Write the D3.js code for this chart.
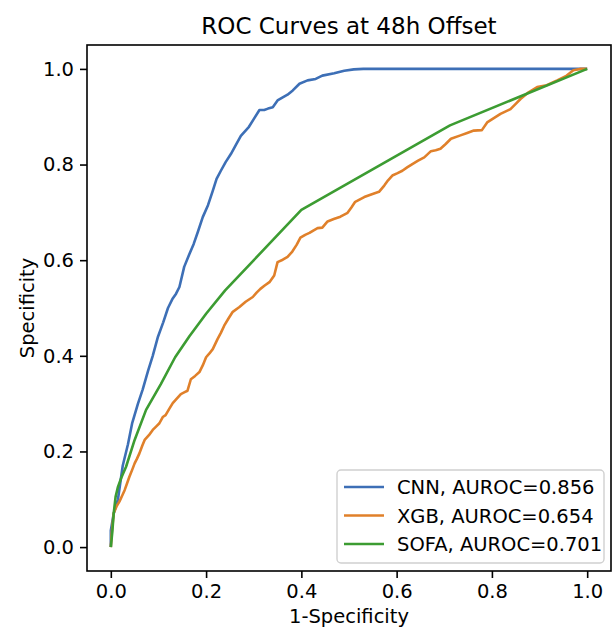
<!DOCTYPE html>
<html>
  <head>
    <title>ROC Curves at 48h Offset</title>
    <script src="https://d3js.org/d3.v7.min.js"></script>
    <style>
      body { margin: 0; background: #fff; }
      text { font-family: "DejaVu Sans", sans-serif; fill: #000; }
      .tick line { stroke: #000; }
      .curve { fill: none; stroke-width: 2.6; stroke-linejoin: round; }
    </style>
  </head>
  <body>
    <svg id="chart" width="613" height="628"></svg>

    <script>
      // curve points
      var cnnFpr = [0, 0, 0.006, 0.015, 0.025, 0.036, 0.045, 0.057, 0.067, 0.078, 0.088, 0.099, 0.11, 0.12, 0.13, 0.137, 0.144, 0.154, 0.165, 0.174, 0.183, 0.193, 0.204, 0.214, 0.222, 0.231, 0.241, 0.252, 0.262, 0.273, 0.29, 0.30, 0.312, 0.322, 0.33, 0.34, 0.35, 0.36, 0.371, 0.382, 0.396, 0.413, 0.43, 0.444, 0.469, 0.49, 0.51, 0.53, 1.0];
      var cnnTpr = [0, 0.035, 0.07, 0.10, 0.17, 0.215, 0.26, 0.30, 0.33, 0.368, 0.40, 0.44, 0.47, 0.50, 0.52, 0.53, 0.544, 0.586, 0.613, 0.634, 0.66, 0.69, 0.715, 0.745, 0.77, 0.787, 0.805, 0.822, 0.84, 0.86, 0.879, 0.895, 0.914, 0.914, 0.917, 0.92, 0.934, 0.94, 0.946, 0.955, 0.969, 0.976, 0.979, 0.986, 0.991, 0.996, 0.999, 1.0, 1.0];

      var xgbFpr = [0, 0.002, 0.006, 0.012, 0.018, 0.024, 0.029, 0.034, 0.039, 0.045, 0.05, 0.055, 0.06, 0.066, 0.071, 0.08, 0.088, 0.095, 0.102, 0.109, 0.115, 0.122, 0.13, 0.138, 0.147, 0.155, 0.161, 0.168, 0.177, 0.186, 0.193, 0.2, 0.207, 0.214, 0.224, 0.231, 0.238, 0.247, 0.256, 0.27, 0.283, 0.298, 0.306, 0.314, 0.323, 0.333, 0.343, 0.35, 0.361, 0.371, 0.381, 0.39, 0.398, 0.408, 0.417, 0.425, 0.434, 0.444, 0.455, 0.468, 0.482, 0.497, 0.505, 0.513, 0.532, 0.548, 0.563, 0.574, 0.582, 0.591, 0.602, 0.612, 0.622, 0.633, 0.645, 0.658, 0.672, 0.682, 0.692, 0.703, 0.714, 0.734, 0.748, 0.762, 0.779, 0.79, 0.804, 0.818, 0.839, 0.85, 0.86, 0.877, 0.895, 0.915, 0.937, 0.957, 0.971, 0.985, 1.0];
      var xgbTpr = [0, 0.03, 0.071, 0.085, 0.095, 0.108, 0.119, 0.133, 0.147, 0.162, 0.175, 0.185, 0.196, 0.212, 0.224, 0.234, 0.245, 0.252, 0.259, 0.272, 0.276, 0.288, 0.301, 0.31, 0.32, 0.324, 0.327, 0.351, 0.358, 0.366, 0.38, 0.397, 0.405, 0.414, 0.435, 0.448, 0.463, 0.478, 0.492, 0.502, 0.513, 0.523, 0.532, 0.54, 0.547, 0.554, 0.568, 0.596, 0.601, 0.607, 0.618, 0.632, 0.647, 0.653, 0.657, 0.662, 0.667, 0.668, 0.681, 0.686, 0.691, 0.699, 0.71, 0.722, 0.732, 0.738, 0.743, 0.756, 0.767, 0.777, 0.782, 0.787, 0.794, 0.801, 0.808, 0.815, 0.828, 0.83, 0.833, 0.843, 0.854, 0.861, 0.866, 0.871, 0.872, 0.888, 0.897, 0.906, 0.916, 0.927, 0.937, 0.951, 0.962, 0.966, 0.976, 0.986, 0.997, 1.0, 1.0];

      var sofaFpr = [0, 0.003, 0.006, 0.01, 0.015, 0.022, 0.032, 0.05, 0.074, 0.105, 0.135, 0.165, 0.2, 0.24, 0.4, 0.712, 1.0];
      var sofaTpr = [0, 0.03, 0.07, 0.105, 0.126, 0.145, 0.168, 0.224, 0.287, 0.341, 0.397, 0.441, 0.488, 0.537, 0.705, 0.882, 1.0];

      var seriesNames = ["CNN, AUROC=0.856", "XGB, AUROC=0.654", "SOFA, AUROC=0.701"];
      var seriesColors = ["#3d6fb6", "#e0802a", "#3c9c32"];
      var tickValues = [0, 0.2, 0.4, 0.6, 0.8, 1.0];

      var series = [
        { name: seriesNames[0], color: seriesColors[0], pts: d3.zip(cnnFpr, cnnTpr) },
        { name: seriesNames[1], color: seriesColors[1], pts: d3.zip(xgbFpr, xgbTpr) },
        { name: seriesNames[2], color: seriesColors[2], pts: d3.zip(sofaFpr, sofaTpr) }
      ];

      var plotL = 87, plotR = 611, plotT = 45, plotB = 571;
      var svg = d3.select("#chart");

      var x = d3.scaleLinear().domain([-0.05, 1.05]).range([plotL, plotR]);
      var y = d3.scaleLinear().domain([-0.05, 1.05]).range([plotB, plotT]);

      var line = d3.line()
        .x(d => x(d[0]))
        .y(d => y(d[1]));

      svg.selectAll("path.curve")
        .data(series)
        .enter()
        .append("path")
          .attr("class", "curve")
          .attr("d", d => line(d.pts))
          .style("stroke", d => d.color);

      var xAxis = svg.append("g")
        .attr("transform", `translate(0,${plotB})`)
        .call(d3.axisBottom(x).tickValues(tickValues).tickFormat(d3.format(".1f")).tickSize(7).tickPadding(6));
      var yAxis = svg.append("g")
        .attr("transform", `translate(${plotL},0)`)
        .call(d3.axisLeft(y).tickValues(tickValues).tickFormat(d3.format(".1f")).tickSize(7).tickPadding(6));
      [xAxis, yAxis].forEach(g => {
        g.select(".domain").remove();
        g.selectAll(".tick line").style("stroke-width", 1.6);
        g.selectAll(".tick text").style("font-size", "19.5px").style("font-family", "DejaVu Sans");
      });

      // frame
      svg.append("rect")
        .attr("x", plotL).attr("y", plotT)
        .attr("width", plotR - plotL).attr("height", plotB - plotT)
        .style("fill", "none").style("stroke", "#000").style("stroke-width", 1.6);

      svg.append("text")
        .attr("x", (plotL + plotR) / 2).attr("y", 34)
        .style("text-anchor", "middle").style("font-size", "23px")
        .text("ROC Curves at 48h Offset");

      svg.append("text")
        .attr("x", (plotL + plotR) / 2).attr("y", 623)
        .style("text-anchor", "middle").style("font-size", "19.5px")
        .text("1-Specificity");

      svg.append("text")
        .attr("transform", `translate(34,${(plotT + plotB) / 2}) rotate(-90)`)
        .style("text-anchor", "middle").style("font-size", "19.5px")
        .text("Specificity");

      // legend
      var legend = svg.append("g").attr("transform", "translate(337,470)");
      legend.append("rect")
        .attr("width", 267).attr("height", 93).attr("rx", 4)
        .style("fill", "#fff").style("fill-opacity", 0.8)
        .style("stroke", "#d0d0d0").style("stroke-width", 1.4);
      var rows = legend.selectAll("g.row")
        .data(series)
        .enter()
        .append("g")
          .attr("class", "row")
          .attr("transform", (d, i) => `translate(0,${17 + i * 28.5})`);
      rows.append("line")
        .attr("x1", 7).attr("x2", 47)
        .style("stroke", d => d.color).style("stroke-width", 2.6);
      rows.append("text")
        .attr("x", 60).attr("y", 7)
        .style("font-size", "19.5px")
        .text(d => d.name);
    </script>
  </body>
</html>
